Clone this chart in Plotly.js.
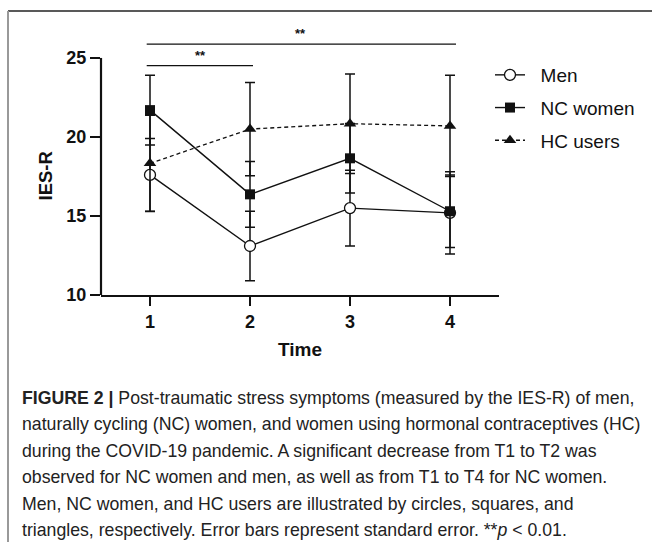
<!DOCTYPE html>
<html>
<head>
<meta charset="utf-8">
<script src="https://cdn.plot.ly/plotly-3.0.1.min.js"></script>
<style>html,body{margin:0;padding:0;background:#fff;}#chart{width:652px;height:542px;}</style>
</head>
<body>
<div id="chart"></div>
<script>
// ---- data ----
var timePoints = [1, 2, 3, 4];
var tickLabels = ['1', '2', '3', '4'];
var yTicks = [10, 15, 20, 25];
var seriesNames = ['Men', 'NC women', 'HC users'];
var menMean = [17.6, 13.1, 15.5, 15.2];
var menSE = [2.3, 2.2, 2.4, 2.6];
var ncMean = [21.7, 16.37, 18.65, 15.3];
var ncSE = [2.2, 2.08, 2.2, 2.3];
var hcMean = [18.33, 20.5, 20.84, 20.7];
var hcSE = [3.05, 2.95, 3.15, 3.2];
// significance brackets: [from time, to time, label]
var brackets = [[1, 2, '**'], [1, 4, '**']];
var captionLines = [
  '<b>FIGURE 2 |</b> Post-traumatic stress symptoms (measured by the IES-R) of men,',
  'naturally cycling (NC) women, and women using hormonal contraceptives (HC)',
  'during the COVID-19 pandemic. A significant decrease from T1 to T2 was',
  'observed for NC women and men, as well as from T1 to T4 for NC women.',
  'Men, NC women, and HC users are illustrated by circles, squares, and',
  'triangles, respectively. Error bars represent standard error. **<i>p</i> &lt; 0.01.'
];

// ---- layout geometry ----
var W = 652, H = 542;
var M = {l: 101, r: 153, t: 39, b: 247};
var plotH = H - M.t - M.b;
function py(p) { return (H - M.b - p) / plotH; }   // pixel row -> paper y
function px(p) { return (p - M.l) / (W - M.l - M.r); } // pixel col -> paper x

var FONT = 'Liberation Sans, Arial, Helvetica, sans-serif';
var black = '#111111';

function errBar(se) {
  return {type: 'data', array: se, visible: true, color: black, thickness: 1.5, width: 5};
}

var traces = [
  {
    x: timePoints, y: menMean, name: '\u00a0\u00a0' + seriesNames[0], type: 'scatter', mode: 'lines+markers',
    line: {color: black, width: 1.4},
    marker: {symbol: 'circle', size: 11, color: '#ffffff', line: {color: black, width: 1.3}},
    error_y: errBar(menSE), legendgroup: 'a'
  },
  {
    x: timePoints, y: ncMean, name: '\u00a0\u00a0' + seriesNames[1], type: 'scatter', mode: 'lines+markers',
    line: {color: black, width: 1.4},
    marker: {symbol: 'square', size: 10, color: black},
    error_y: errBar(ncSE), legendgroup: 'b'
  },
  {
    x: timePoints, y: hcMean, name: '\u00a0\u00a0' + seriesNames[2], type: 'scatter', mode: 'lines+markers',
    line: {color: black, width: 1.3, dash: '4px,3px'},
    marker: {symbol: 'triangle-up', size: 11, color: black},
    error_y: errBar(hcSE), legendgroup: 'c'
  }
];

var shapes = [
  // y axis line from 10 to 25 only
  {type: 'line', xref: 'paper', yref: 'y', x0: 0, x1: 0, y0: yTicks[0], y1: yTicks[yTicks.length - 1],
   line: {color: black, width: 2.2}},
  // frame around figure
  {type: 'line', xref: 'paper', yref: 'paper', x0: px(8), x1: px(652), y0: py(11), y1: py(11),
   line: {color: '#222222', width: 1.5}},
  {type: 'line', xref: 'paper', yref: 'paper', x0: px(8), x1: px(8), y0: py(11), y1: py(542),
   line: {color: '#999999', width: 2}}
];
var annotations = [];
var bracketY = [24.51, 25.87];
brackets.forEach(function (b, i) {
  shapes.push({type: 'line', xref: 'x', yref: 'y', x0: b[0] - 0.033, x1: b[1] + (i === 0 ? 0.03 : 0.06),
    y0: bracketY[i], y1: bracketY[i], line: {color: black, width: 1.3}});
  annotations.push({xref: 'x', yref: 'y', x: (b[0] + b[1]) / 2, y: bracketY[i], yanchor: 'bottom',
    yshift: 1, text: b[2], showarrow: false, font: {family: FONT, size: 13, color: black, weight: 'bold'}});
});
// y axis title
annotations.push({xref: 'paper', yref: 'y', x: px(45), y: 17.5, text: '<b>IES-R</b>', textangle: -90,
  showarrow: false, xanchor: 'center', yanchor: 'middle', font: {family: FONT, size: 18.5, color: black}});
// caption
var capY = [397.5, 424, 450.5, 477, 503.5, 530];
captionLines.forEach(function (t, i) {
  annotations.push({xref: 'paper', yref: 'paper', x: px(20), y: py(capY[i]), xanchor: 'left', yanchor: 'middle',
    text: t, showarrow: false, font: {family: FONT, size: 17.7, color: '#222222'}});
});

var layout = {
  width: W, height: H,
  margin: M,
  paper_bgcolor: '#ffffff', plot_bgcolor: '#ffffff',
  font: {family: FONT, color: black},
  showlegend: true,
  legend: {x: px(490), xanchor: 'left', y: py(56), yanchor: 'top', font: {family: FONT, size: 19, color: black},
           tracegroupgap: 5, bgcolor: 'rgba(0,0,0,0)'},
  xaxis: {
    range: [0.51, 4.49], tickvals: timePoints, ticktext: tickLabels,
    showline: true, linecolor: black, linewidth: 2.2, ticks: 'outside', ticklen: 9, tickwidth: 2, tickcolor: black,
    showgrid: false, zeroline: false,
    tickfont: {family: FONT, size: 18, color: black, weight: 'bold'},
    title: {text: '<b>Time</b>', font: {family: FONT, size: 19, color: black}, standoff: 12}
  },
  yaxis: {
    range: [10, 26.2], tickvals: yTicks, showline: false, ticks: 'outside', ticklen: 10, tickwidth: 2, tickcolor: black,
    showgrid: false, zeroline: false,
    tickfont: {family: FONT, size: 18, color: black, weight: 'bold'}
  },
  shapes: shapes,
  annotations: annotations
};

Plotly.newPlot('chart', traces, layout, {staticPlot: true, displayModeBar: false});
</script>
</body>
</html>
